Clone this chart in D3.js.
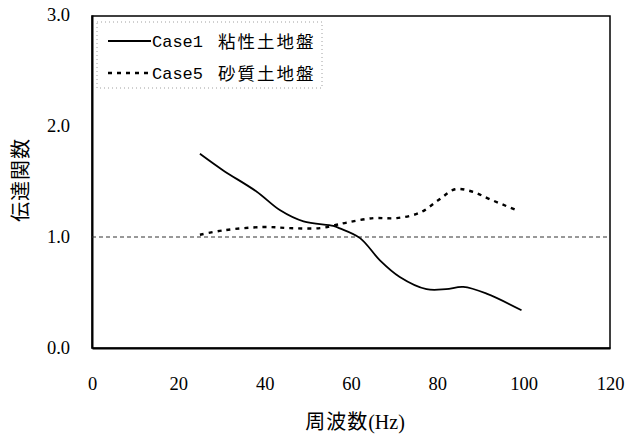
<!DOCTYPE html>
<html><head><meta charset="utf-8">
<script src="https://cdn.jsdelivr.net/npm/d3@7"></script>
<style>body{margin:0;background:#fff}</style>
</head><body><svg id="c" width="628" height="436"></svg>
<script>
const xTicks = [0, 20, 40, 60, 80, 100, 120];
const yTicks = [0.0, 1.0, 2.0, 3.0];
const case1Freq = [25, 30.4, 38.1, 43.6, 49, 55.9, 57.4, 62.1, 66.7, 71.3, 77.5, 82, 86, 91.4, 99.5];
const case1Val  = [1.75, 1.60, 1.41, 1.24, 1.14, 1.10, 1.078, 0.99, 0.79, 0.64, 0.53, 0.53, 0.55, 0.49, 0.34];
const case5Freq = [25, 30.4, 39.7, 45.9, 52.8, 56.7, 59, 65.2, 70.6, 76, 80.2, 84.1, 88, 92.2, 98.4];
const case5Val  = [1.02, 1.06, 1.09, 1.08, 1.08, 1.11, 1.13, 1.17, 1.17, 1.22, 1.33, 1.43, 1.41, 1.34, 1.24];
const refLine = 1.0;
const legendLabels = ["Case1 粘性土地盤", "Case5 砂質土地盤"];
const xTitleJp = "周波数";
const xTitleUnit = "(Hz)";
const yTitle = "伝達関数";

const svg = d3.select("#c");
const L = 92, R = 610, T = 15, B = 348;
const x = d3.scaleLinear().domain([0, 120]).range([L, R]);
const y = d3.scaleLinear().domain([0, 3]).range([B, T]);
const serif = "'Liberation Serif', 'DejaVu Serif', serif";
const mono = "'Liberation Mono', 'DejaVu Sans Mono', monospace";
const jp = "'Noto Sans CJK JP', sans-serif";

// frame
svg.append("rect").attr("x", L).attr("y", T + 1).attr("width", R - L).attr("height", B - T - 1)
  .attr("fill", "none").attr("stroke", "#000").attr("stroke-width", 1.5);

// axes (no tick marks)
const xAxis = svg.append("g").attr("transform", `translate(0,${B})`)
  .call(d3.axisBottom(x).tickValues(xTicks).tickSize(0).tickPadding(29).tickFormat(d3.format("d")));
xAxis.select(".domain").attr("stroke-width", 2);
xAxis.selectAll("text").attr("font-family", serif).attr("font-size", 18.5).attr("fill", "#000");

const yAxis = svg.append("g").attr("transform", `translate(${L},0)`)
  .call(d3.axisLeft(y).tickValues(yTicks).tickSize(0).tickPadding(22).tickFormat(d3.format(".1f")));
yAxis.select(".domain").attr("stroke-width", 2);
yAxis.selectAll("text").attr("font-family", serif).attr("font-size", 18.5).attr("fill", "#000");

// reference line
svg.append("line").attr("x1", x(0)).attr("x2", x(120)).attr("y1", y(refLine)).attr("y2", y(refLine))
  .attr("stroke", "#333").attr("stroke-width", 1).attr("stroke-dasharray", "4,3");

const line = d3.line().x(d => x(d[0])).y(d => y(d[1])).curve(d3.curveCatmullRom.alpha(0.5));
const d1 = case1Freq.map((f, i) => [f, case1Val[i]]);
const d5 = case5Freq.map((f, i) => [f, case5Val[i]]);
svg.append("path").attr("d", line(d1)).attr("fill", "none").attr("stroke", "#000").attr("stroke-width", 1.8);
svg.append("path").attr("d", line(d5)).attr("fill", "none").attr("stroke", "#000").attr("stroke-width", 2.4)
  .attr("stroke-dasharray", "4,5");

// legend
svg.append("rect").attr("x", 97).attr("y", 22).attr("width", 225).attr("height", 66)
  .attr("fill", "#fff").attr("stroke", "#888").attr("stroke-width", 0.8).attr("stroke-dasharray", "1,3");
const leg = [{y: 41, dash: null, w: 1.8}, {y: 73, dash: "4,5", w: 2.4}];
leg.forEach((l, i) => {
  const ln = svg.append("line").attr("x1", 108).attr("x2", 151).attr("y1", l.y).attr("y2", l.y)
    .attr("stroke", "#000").attr("stroke-width", l.w);
  if (l.dash) ln.attr("stroke-dasharray", l.dash);
  const parts = legendLabels[i].split(" ");
  svg.append("text").attr("x", 152).attr("y", l.y + 6).attr("font-size", 17).attr("fill", "#000")
    .attr("font-family", mono).text(parts[0]);
  svg.append("text").attr("x", 218).attr("y", l.y + 7).attr("font-size", 17.5).attr("fill", "#000")
    .attr("font-family", jp).attr("letter-spacing", 2).text(parts[1]);
});

// titles
const xt = svg.append("text").attr("x", 355).attr("y", 429).attr("text-anchor", "middle").attr("fill", "#000");
xt.append("tspan").attr("font-family", jp).attr("font-size", 20).attr("letter-spacing", 1).text(xTitleJp);
xt.append("tspan").attr("font-family", serif).attr("font-size", 20).text(xTitleUnit);
svg.append("text").attr("transform", "translate(28,180) rotate(-90)").attr("text-anchor", "middle")
  .attr("font-family", jp).attr("font-size", 20).attr("letter-spacing", 1).attr("fill", "#000").text(yTitle);
</script></body></html>
